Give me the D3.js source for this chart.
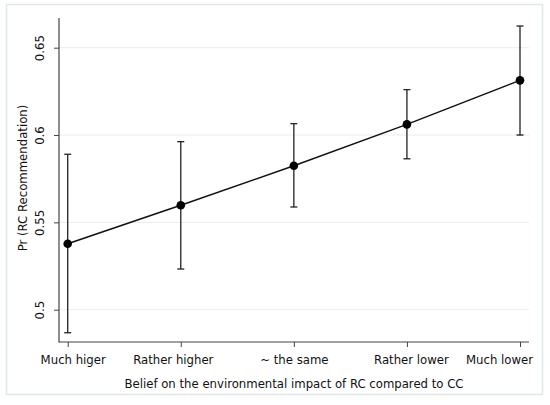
<!DOCTYPE html>
<html lang="en">
<head>
	<meta charset="UTF-8">
	<title>Pr (RC Recommendation)</title>
	<script type="text/javascript" src="https://cdn.jsdelivr.net/npm/d3@7"></script>
</head>
<style>
	body { margin: 0; background: #fff; }
	text { font-family: 'DejaVu Sans Condensed', 'DejaVu Sans', sans-serif; font-stretch: condensed; fill: #111; }
</style>
<body>
	<script type="text/javascript">
		var width = 550;
		var height = 405;

		// data
		var categories = ['Much higer', 'Rather higher', '~ the same', 'Rather lower', 'Much lower'];
		var estimate = [0.5378, 0.5598, 0.5824, 0.6061, 0.6313];
		var ciLow    = [0.4868, 0.5233, 0.5588, 0.5864, 0.6000];
		var ciHigh   = [0.5890, 0.5962, 0.6065, 0.6260, 0.6624];
		var yTicks = [0.5, 0.55, 0.6, 0.65];

		// little nudges of the category labels, like in the original
		var labelShift = [5, -8, 0, 4, -21];

		var svg = d3.select('body')
					.append('svg')
					.attr('width', width)
					.attr('height', height);

		// outer frame
		svg.append('rect')
		   .attr('x', 6.5).attr('y', 4.5)
		   .attr('width', 536).attr('height', 390)
		   .attr('fill', 'none')
		   .attr('stroke', '#dfe8eb')
		   .attr('stroke-width', 1.5);

		// (window.top is taken, so plotTop)
		var plotLeft = 59, plotRight = 529, plotTop = 18, plotBottom = 342;

		var x = d3.scalePoint()
				  .domain(categories)
				  .range([67.7, 520]);

		var y = d3.scaleLinear()
				  .domain([0.5, 0.65])
				  .range([309.7, 47.7]);

		// grid
		svg.selectAll('line.grid')
		   .data(yTicks)
		   .enter()
		   .append('line')
		   .attr('class', 'grid')
		   .attr('x1', plotLeft).attr('x2', plotRight)
		   .attr('y1', function(d){ return y(d); })
		   .attr('y2', function(d){ return y(d); })
		   .attr('stroke', '#e4eff1')
		   .attr('stroke-width', 1);

		// y axis
		var yAxis = d3.axisLeft(y)
					  .tickValues(yTicks)
					  .tickSize(5)
					  .tickSizeOuter(0)
					  .tickFormat(function(d){ return String(+d.toFixed(2)); });
		var gy = svg.append('g')
					.attr('transform', 'translate(' + plotLeft + ',0)')
					.call(yAxis);
		gy.select('.domain').remove();
		gy.selectAll('.tick line').attr('stroke', '#444');
		gy.selectAll('.tick text')
		  .attr('transform', 'rotate(-90)')
		  .attr('x', 0)
		  .attr('y', -15)
		  .attr('dy', 0)
		  .attr('text-anchor', 'middle')
		  .style('font-size', '13px')
		  .attr('fill', '#111');

		svg.append('line')
		   .attr('x1', plotLeft).attr('x2', plotLeft)
		   .attr('y1', plotTop).attr('y2', plotBottom + 0.6)
		   .attr('stroke', '#444').attr('stroke-width', 1.2);

		// x axis
		var xAxis = d3.axisBottom(x).tickSize(5).tickSizeOuter(0);
		var gx = svg.append('g')
					.attr('transform', 'translate(0,' + plotBottom + ')')
					.call(xAxis);
		gx.select('.domain').remove();
		gx.selectAll('.tick line').attr('stroke', '#444');
		gx.selectAll('.tick text')
		  .attr('y', 21.5).attr('dy', 0)
		  .attr('x', function(d, i){ return labelShift[i]; })
		  .style('font-size', '13px')
		  .attr('fill', '#111');

		svg.append('line')
		   .attr('x1', plotLeft).attr('x2', plotRight)
		   .attr('y1', plotBottom).attr('y2', plotBottom)
		   .attr('stroke', '#444').attr('stroke-width', 1.2);

		// axis titles
		svg.append('text')
		   .attr('x', 294).attr('y', 388)
		   .attr('text-anchor', 'middle')
		   .style('font-size', '13px')
		   .text('Belief on the environmental impact of RC compared to CC');

		svg.append('text')
		   .attr('transform', 'translate(27,178) rotate(-90)')
		   .attr('text-anchor', 'middle')
		   .style('font-size', '13px')
		   .text('Pr (RC Recommendation)');

		// error bars
		var bars = svg.append('g')
					  .selectAll('g')
					  .data(categories)
					  .enter()
					  .append('g');

		bars.append('line')
			.attr('x1', function(d){ return x(d); })
			.attr('x2', function(d){ return x(d); })
			.attr('y1', function(d, i){ return y(ciLow[i]); })
			.attr('y2', function(d, i){ return y(ciHigh[i]); })
			.attr('stroke', '#222').attr('stroke-width', 1.3);

		[ciLow, ciHigh].forEach(function(arr){
			bars.append('line')
				.attr('x1', function(d){ return x(d) - 3.5; })
				.attr('x2', function(d){ return x(d) + 3.5; })
				.attr('y1', function(d, i){ return y(arr[i]); })
				.attr('y2', function(d, i){ return y(arr[i]); })
				.attr('stroke', '#222').attr('stroke-width', 1.3);
		});

		// the line
		var line = d3.line()
					 .x(function(d, i){ return x(categories[i]); })
					 .y(function(d){ return y(d); });

		svg.append('path')
		   .datum(estimate)
		   .attr('d', line)
		   .attr('fill', 'none')
		   .attr('stroke', '#111')
		   .attr('stroke-width', 1.5);

		svg.selectAll('circle')
		   .data(estimate)
		   .enter()
		   .append('circle')
		   .attr('cx', function(d, i){ return x(categories[i]); })
		   .attr('cy', function(d){ return y(d); })
		   .attr('r', 4.3)
		   .attr('fill', '#000');
	</script>
</body>
</html>
